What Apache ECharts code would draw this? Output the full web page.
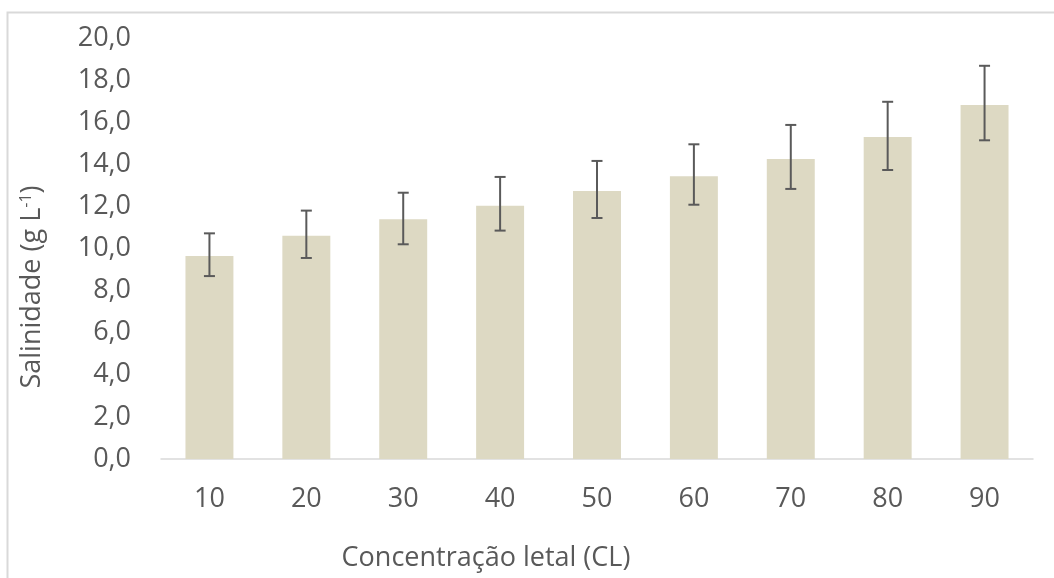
<!DOCTYPE html>
<html>
<head>
<meta charset="utf-8">
<script src="https://cdn.jsdelivr.net/npm/echarts@6/dist/echarts.min.js"></script>
<style>
html,body{margin:0;padding:0;background:#fff;}
#chart{width:1054px;height:578px;}
</style>
</head>
<body>
<div id="chart"></div>
<script>
const categories = ['10','20','30','40','50','60','70','80','90'];
const salinity = [9.64, 10.61, 11.39, 12.03, 12.73, 13.43, 14.25, 15.30, 16.82];
const errLow = [8.69, 9.55, 10.20, 10.85, 11.45, 12.08, 12.83, 13.73, 15.14];
const errHigh = [10.72, 11.80, 12.65, 13.40, 14.16, 14.95, 15.87, 16.97, 18.68];
const yTitle = 'Salinidade (g L';
const ySup = '-1';
const xTitle = 'Concentração letal (CL)';

const FONT = '"Open Sans", "Noto Sans", sans-serif';
const TXT = '#595959';
const FS = 27;

const errData = categories.map((c, i) => [i, errLow[i], errHigh[i]]);

const chart = echarts.init(document.getElementById('chart'));
chart.setOption({
  animation: false,
  backgroundColor: '#ffffff',
  grid: {left: 161, right: 21, top: 38, bottom: 119, containLabel: false},
  xAxis: {
    type: 'category',
    data: categories,
    axisTick: {show: false},
    axisLine: {lineStyle: {color: '#d9d9d9', width: 1.5}},
    axisLabel: {color: TXT, fontFamily: FONT, fontSize: FS, margin: 27}
  },
  yAxis: {
    type: 'value',
    min: 0, max: 20, interval: 2,
    splitLine: {show: false},
    axisLine: {show: false},
    axisTick: {show: false},
    axisLabel: {
      color: TXT, fontFamily: FONT, fontSize: FS, margin: 30,
      formatter: v => v.toFixed(1).replace('.', ',')
    }
  },
  series: [
    {
      type: 'bar',
      data: salinity,
      barCategoryGap: '50.5%',
      itemStyle: {color: '#ddd9c3'}
    },
    {
      type: 'custom',
      data: errData,
      encode: {x: 0, y: [1, 2]},
      z: 5,
      renderItem: function (params, api) {
        const i = api.value(0);
        const lo = api.coord([i, api.value(1)]);
        const hi = api.coord([i, api.value(2)]);
        const hw = 5.5;
        const st = {stroke: '#5a5a5a', lineWidth: 2};
        return {
          type: 'group',
          children: [
            {type: 'line', shape: {x1: hi[0], y1: hi[1], x2: lo[0], y2: lo[1]}, style: st},
            {type: 'line', shape: {x1: hi[0] - hw, y1: hi[1], x2: hi[0] + hw, y2: hi[1]}, style: st},
            {type: 'line', shape: {x1: lo[0] - hw, y1: lo[1], x2: lo[0] + hw, y2: lo[1]}, style: st}
          ]
        };
      }
    }
  ],
  graphic: [
    {
      type: 'rect',
      shape: {x: 7.5, y: 12.5, width: 1200, height: 1000},
      style: {fill: null, stroke: '#d9d9d9', lineWidth: 2},
      silent: true, z: -1
    },
    {
      type: 'text',
      x: 32, y: 287,
      rotation: Math.PI / 2,
      style: {
        text: '{a|' + yTitle + '}{s|' + ySup + '}{a|)}',
        align: 'center', verticalAlign: 'middle',
        rich: {
          a: {fontFamily: FONT, fontSize: FS, fill: TXT, verticalAlign: 'bottom'},
          s: {fontFamily: FONT, fontSize: 16, fill: TXT, verticalAlign: 'top', padding: [0, 0, 11, 0]}
        }
      }
    },
    {
      type: 'text',
      x: 486, y: 558,
      style: {
        text: xTitle,
        fontFamily: FONT, fontSize: FS, fill: TXT,
        align: 'center', verticalAlign: 'middle'
      }
    }
  ]
});
</script>
</body>
</html>
